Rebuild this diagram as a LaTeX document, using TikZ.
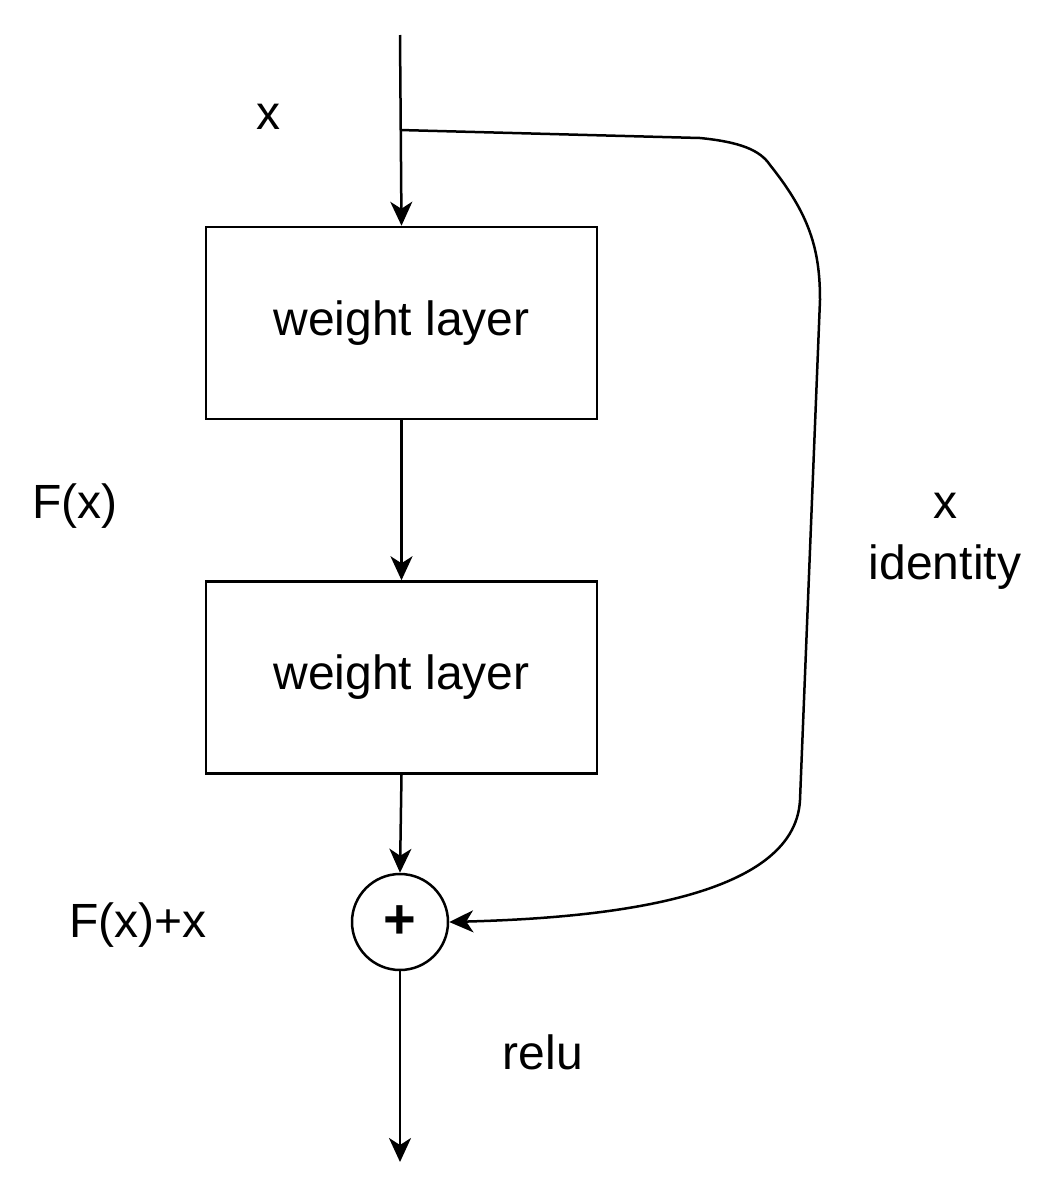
\documentclass[tikz,border=0pt]{standalone}
\usepackage{fontspec}
\setmainfont{Liberation Sans}
\usetikzlibrary{arrows.meta}
\begin{document}
\begin{tikzpicture}[x=1pt,y=-1pt,
  line width=2.5pt,
  arr/.style={-{Stealth[length=24pt,width=22pt,inset=7pt]}},
  box/.style={draw,minimum width=391pt,minimum height=192pt,inner sep=0pt,font=\fontsize{48}{54}\selectfont},
  lbl/.style={font=\fontsize{48}{56}\selectfont,inner sep=0pt}]
\useasboundingbox (0,0) rectangle (1064,1184);
\coordinate (top) at (400,35);
\coordinate (split) at (400,130);
\node[box] (w1) at (401.5,323) {weight layer};
\node[box] (w2) at (401.5,677.5) {weight layer};
\node[draw,circle,minimum size=96pt,inner sep=0pt,font=\fontsize{56}{60}\selectfont\bfseries] (plus) at (400,922) {+};
\coordinate (bot) at (400,1162);
\draw[arr] (top) -- (w1.north);
\draw[arr] (w1.south) -- (w2.north);
\draw[arr] (w2.south) -- (plus.north);
\draw[arr] (plus.south) -- (bot);
\draw[arr] (split) -- (700,138) .. controls (740,142) and (760,150) .. (770,165)
  .. controls (810,215) and (820,250) .. (820,300)
  -- (800,800) .. controls (795,900) and (600,918) .. (plus.east);
\node[lbl] (lx) at (268,117) {x};
\node[lbl] (lf) at (75,506) {F(x)};
\node[lbl] (rx) at (945,506) {x};
\node[lbl] (rid) at (945,567) {identity};
\node[lbl] (lfx) at (138,925) {F(x)+x};
\node[lbl] (lr) at (543,1052) {relu};
\end{tikzpicture}
\end{document}
